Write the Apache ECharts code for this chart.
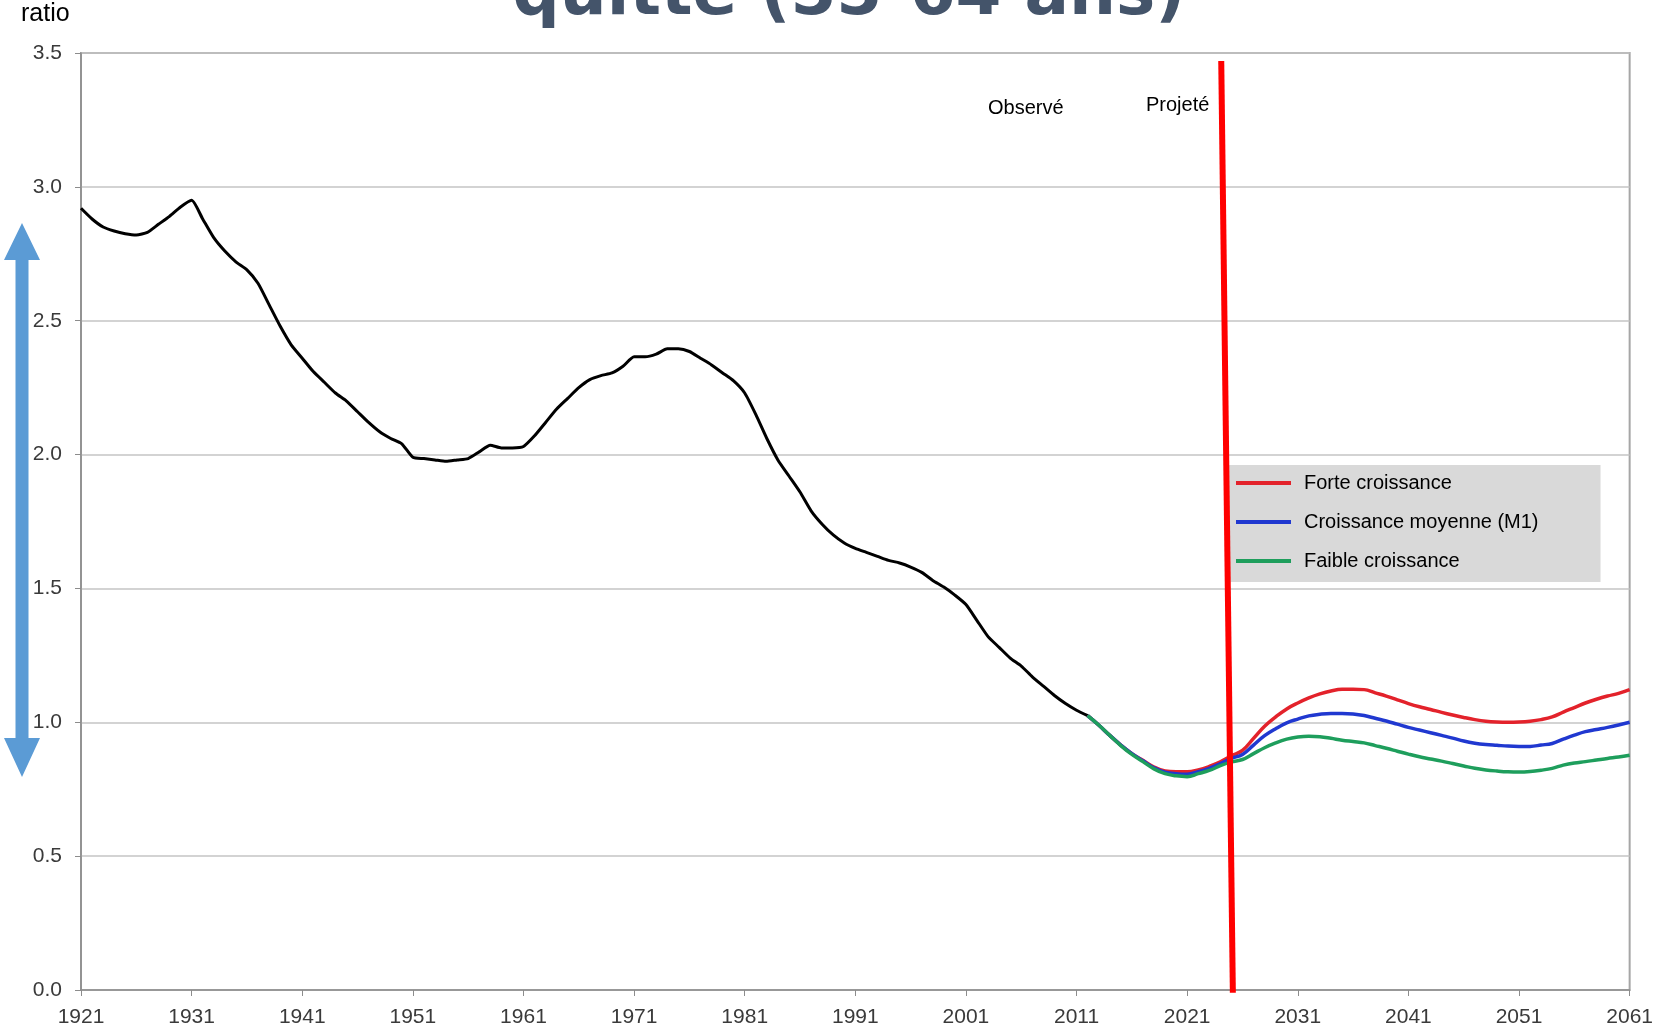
<!DOCTYPE html>
<html>
<head>
<meta charset="utf-8">
<script src="https://cdn.jsdelivr.net/npm/echarts@6/dist/echarts.min.js"></script>
<style>
  html, body { margin: 0; padding: 0; background: #fff; }
  #chart { width: 1656px; height: 1030px; }
</style>
</head>
<body>
<div id="chart"></div>
<script>
const BASE = 1921;
const xTicks = [1921, 1931, 1941, 1951, 1961, 1971, 1981, 1991, 2001, 2011, 2021, 2031, 2041, 2051, 2061];

// observé 1921..2012
const obsStart = 1921;
const observe = [
  2.92, 2.88, 2.85, 2.835, 2.825, 2.82, 2.83, 2.86, 2.89, 2.925,
  2.95, 2.88, 2.81, 2.76, 2.72, 2.69, 2.64, 2.56, 2.48, 2.41,
  2.36, 2.31, 2.27, 2.23, 2.20, 2.16, 2.12, 2.085, 2.06, 2.04,
  1.99, 1.985, 1.98, 1.975, 1.98, 1.985, 2.01, 2.035, 2.025, 2.025,
  2.03, 2.07, 2.12, 2.17, 2.21, 2.25, 2.28, 2.295, 2.305, 2.33,
  2.365, 2.365, 2.375, 2.395, 2.395, 2.385, 2.36, 2.335, 2.305, 2.275,
  2.23, 2.15, 2.06, 1.98, 1.92, 1.86, 1.79, 1.74, 1.70, 1.67,
  1.65, 1.635, 1.62, 1.605, 1.595, 1.58, 1.56, 1.53, 1.505, 1.475,
  1.44, 1.38, 1.32, 1.28, 1.24, 1.21, 1.17, 1.135, 1.10, 1.07,
  1.045, 1.025
];

// projections 2012..2061
const projStart = 2012;
const forte = [
  1.025, 0.99, 0.951, 0.915, 0.883, 0.858, 0.833, 0.818,
  0.815, 0.815, 0.822, 0.835, 0.852, 0.875, 0.895, 0.94, 0.985, 1.02,
  1.05, 1.072, 1.091, 1.106, 1.117, 1.123, 1.123, 1.122, 1.11, 1.098,
  1.084, 1.07, 1.058, 1.048, 1.037, 1.027, 1.018, 1.01, 1.004, 1.001,
  1.0, 1.001, 1.004, 1.01, 1.02, 1.038, 1.055, 1.072, 1.086, 1.098, 1.108, 1.122
];
const moyenne = [
  1.025, 0.99, 0.951, 0.915, 0.883, 0.856, 0.83, 0.814,
  0.808, 0.806, 0.815, 0.828, 0.846, 0.865, 0.88, 0.915, 0.95, 0.976,
  0.998, 1.012, 1.024, 1.03, 1.033, 1.033, 1.031, 1.025, 1.015, 1.005,
  0.993, 0.981, 0.971, 0.961, 0.951, 0.941, 0.93, 0.922, 0.917, 0.914,
  0.911, 0.91, 0.91, 0.915, 0.921, 0.937, 0.952, 0.965, 0.973, 0.981, 0.99, 1.0
];
const faible = [
  1.025, 0.99, 0.951, 0.913, 0.88, 0.853, 0.826, 0.808,
  0.80, 0.797, 0.808, 0.82, 0.838, 0.852, 0.861, 0.883, 0.905, 0.923,
  0.937, 0.945, 0.948, 0.946, 0.94, 0.933, 0.928, 0.923, 0.913, 0.903,
  0.892, 0.881, 0.871, 0.863, 0.855, 0.846, 0.837, 0.828, 0.822, 0.818,
  0.815, 0.814, 0.816, 0.821, 0.828, 0.84, 0.848, 0.853, 0.859, 0.865, 0.87, 0.877
];

// ligne rouge observé / projeté (année, ratio)
const dividerYears = [2024.08, 2025.13];
const dividerValues = [3.47, -0.01];

const toPts = (start, vals) => vals.map((v, i) => [start + i - BASE, v]);

const font = 'Liberation Sans, Arial, sans-serif';
const chart = echarts.init(document.getElementById('chart'));

const lineSeries = (name, color, start, vals, z, smooth, width) => ({
  name, type: 'line', data: toPts(start, vals), z,
  symbol: 'none', smooth,
  lineStyle: { color, width }, itemStyle: { color }
});

chart.setOption({
  animation: false,
  backgroundColor: '#fff',
  grid: { left: 81, right: 21, top: 53, bottom: 40, show: true, borderColor: '#A6A6A6', borderWidth: 2 },
  xAxis: {
    type: 'value', min: 0, max: 140, interval: 10,
    axisLine: { lineStyle: { color: '#8C8C8C', width: 1.5 } },
    axisTick: { show: true, length: 6, lineStyle: { color: '#8C8C8C' } },
    axisLabel: { fontSize: 21, color: '#3a3a3a', fontFamily: font, margin: 17,
      formatter: v => xTicks.includes(v + BASE) ? String(v + BASE) : '' },
    splitLine: { show: false }
  },
  yAxis: {
    type: 'value', min: 0, max: 3.5, interval: 0.5,
    axisLine: { show: true, lineStyle: { color: '#8C8C8C', width: 1.5 } },
    axisTick: { show: true, length: 6, lineStyle: { color: '#8C8C8C' } },
    axisLabel: { fontSize: 21, color: '#3a3a3a', fontFamily: font, margin: 19,
      formatter: v => v.toFixed(1) },
    splitLine: { lineStyle: { color: '#C4C4C4', width: 1.5 } }
  },
  legend: {
    data: ['Forte croissance', 'Croissance moyenne (M1)', 'Faible croissance'],
    orient: 'vertical', left: 1225, top: 465,
    backgroundColor: '#D9D9D9', padding: [8, 62, 11, 11],
    icon: 'rect', itemWidth: 55, itemHeight: 4, itemGap: 19, selectedMode: false,
    textStyle: { fontSize: 20, lineHeight: 20, color: '#000', fontFamily: font, padding: [0, 0, 0, 8] }
  },
  graphic: [
    { type: 'text', left: 21, top: 2, style: { text: 'ratio', font: '25px ' + font, fill: '#000' } },
    { type: 'text', x: 849, y: 30, style: { text: 'quitte (55-64 ans)', font: 'bold 66px DejaVu Sans', fill: '#44546A', textAlign: 'center', textVerticalAlign: 'bottom' } },
    { type: 'text', x: 988, y: 118, style: { text: 'Observé', font: '20px ' + font, fill: '#000', textVerticalAlign: 'bottom' } },
    { type: 'text', x: 1146, y: 115, style: { text: 'Projeté', font: '20px ' + font, fill: '#000', textVerticalAlign: 'bottom' } },
    { type: 'polygon', z: 20, shape: { points: [
        [22, 223], [40, 260], [28.5, 260], [28.5, 738], [40, 738], [22, 777],
        [4, 738], [15.5, 738], [15.5, 260], [4, 260]
      ] }, style: { fill: '#5B9BD5' } }
  ],
  series: [
    lineSeries('Observé', '#000000', obsStart, observe, 3, 0.2, 3),
    lineSeries('Forte croissance', '#E3222B', projStart, forte, 4, 0.4, 3.5),
    lineSeries('Croissance moyenne (M1)', '#2038D0', projStart, moyenne, 5, 0.4, 3.5),
    lineSeries('Faible croissance', '#1E9E5C', projStart, faible, 6, 0.4, 3.5),
    {
      name: 'divider', type: 'line', z: 10, clip: false, symbol: 'none',
      data: dividerYears.map((y, i) => [y - BASE, dividerValues[i]]),
      lineStyle: { color: '#FF0000', width: 6 }
    }
  ]
});
</script>
</body>
</html>
